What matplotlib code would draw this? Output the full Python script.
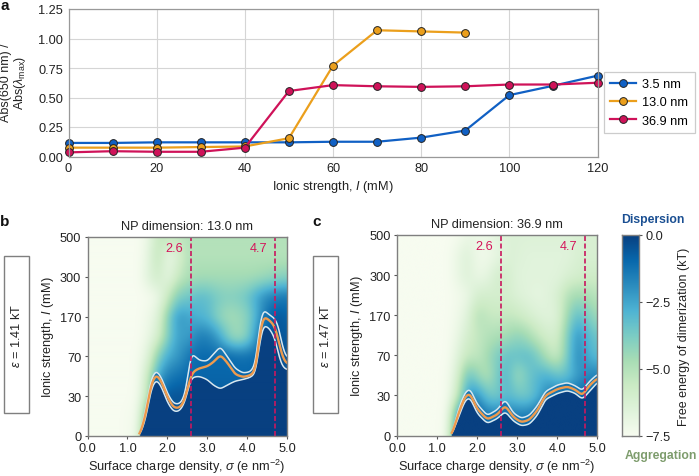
import numpy as np
import matplotlib
matplotlib.use("Agg")
import matplotlib.pyplot as plt
from matplotlib.patches import Rectangle

plt.rcParams['font.family'] = ['Liberation Sans', 'DejaVu Sans']
plt.rcParams['mathtext.fontset'] = 'custom'
plt.rcParams['mathtext.rm'] = 'Liberation Sans'
plt.rcParams['mathtext.it'] = 'Liberation Sans:italic'

W, H = 699, 477

# ---------- panel a data
ionic = [0, 10, 20, 30, 40, 50, 60, 70, 80, 90, 100, 110, 120]
abs_35 = [.115, .115, .12, .12, .12, .12, .125, .125, .16, .22, .52, .60, .685]
abs_13 = [.075, .075, .075, .08, .085, .155, .77, 1.07, 1.06, 1.05]
abs_369 = [.035, .045, .04, .04, .075, .555, .605, .595, .59, .595, .61, .61, .625]

# ---------- heat map data (rows: tick-position index 0..5, columns: sigma)
sigma_cols = [0, .25, .5, .75, 1, 1.25, 1.5, 1.75, 2, 2.25, 2.5, 2.75, 3, 3.25, 3.5, 3.75, 4, 4.25, 4.5, 4.75, 5]
row_idx = [0, .5, 1, 1.5, 2, 2.5, 3, 3.5, 4, 4.5, 5]
grid_b = [
 [-7.5,-7.5,-7.5,-7.5,-7.4,-7.0,-1,-.5,-.5,-.5,-.5,-.5,-.5,-.5,-.5,-.5,-.5,-.5,-.5,-.5,-.5],
 [-7.5,-7.5,-7.5,-7.5,-7.4,-7.2,-2.5,-.5,-.5,-.5,-.5,-.5,-.5,-.8,-.5,-.5,-.5,-.5,-.5,-.5,-.5],
 [-7.5,-7.5,-7.5,-7.5,-7.5,-7.3,-5.0,-1.5,-.5,-.5,-.5,-.7,-.7,-.7,-.7,-.7,-.7,-.7,-.5,-.5,-.5],
 [-7.5,-7.5,-7.5,-7.5,-7.5,-7.4,-5.5,-2.5,-1.5,-1.2,-1.0,-.9,-.9,-.9,-.9,-.9,-.9,-.8,-.5,-.5,-.5],
 [-7.5,-7.5,-7.5,-7.5,-7.5,-7.4,-6.5,-4.0,-2.6,-2.2,-1.4,-1.0,-1.0,-1.0,-1.0,-1.2,-1.2,-1.0,-.5,-.5,-.5],
 [-7.5,-7.5,-7.5,-7.5,-7.5,-7.5,-7.0,-6.0,-3.8,-2.3,-2.4,-1.6,-1.6,-2.3,-3.8,-4.6,-3.8,-1.8,-.5,-.5,-.6],
 [-7.5,-7.5,-7.5,-7.5,-7.5,-7.5,-7.2,-6.5,-4.0,-2.2,-2.5,-2.8,-3.0,-4.0,-4.6,-4.5,-4.0,-2.5,-1.0,-.5,-.9],
 [-7.5,-7.5,-7.5,-7.5,-7.5,-7.5,-7.4,-7.0,-5.5,-3.8,-3.6,-3.2,-3.3,-3.8,-4.0,-3.9,-3.5,-2.5,-1.8,-1.5,-1.4],
 [-7.5,-7.5,-7.5,-7.5,-7.5,-7.5,-6.6,-5.8,-6.8,-5.5,-4.8,-4.6,-4.6,-4.6,-4.6,-4.6,-4.6,-4.5,-4.3,-4.1,-4.0],
 [-7.5,-7.5,-7.5,-7.5,-7.5,-7.5,-6.8,-5.2,-7.0,-6.2,-5.0,-5.0,-5.0,-5.0,-5.0,-5.0,-5.0,-5.0,-5.0,-5.0,-5.0],
 [-7.5,-7.5,-7.5,-7.5,-7.5,-7.5,-7.0,-5.4,-5.4,-5.4,-5.0,-5.0,-5.0,-5.0,-5.0,-5.0,-5.0,-5.0,-5.0,-5.0,-5.0],
]
grid_c = [
 [-7.5,-7.5,-7.5,-7.5,-7.5,-7.2,-1,-.5,-.5,-.5,-.5,-.5,-.5,-.5,-.5,-.5,-.5,-.5,-.5,-.5,-.5],
 [-7.5,-7.5,-7.5,-7.5,-7.5,-7.3,-2.5,-.5,-.5,-1.5,-1.5,-1.5,-1.5,-1.5,-1.0,-.5,-.5,-.5,-.5,-.5,-.5],
 [-7.5,-7.5,-7.5,-7.5,-7.5,-7.4,-5.5,-2.2,-2.0,-3.5,-3.6,-3.0,-3.5,-3.6,-2.8,-1.6,-1.4,-1.2,-1.0,-.8,-.8],
 [-7.5,-7.5,-7.5,-7.5,-7.5,-7.4,-6.2,-3.4,-4.2,-5.0,-3.6,-3.0,-4.5,-3.6,-3.0,-2.8,-3.4,-3.2,-2.2,-1.8,-1.6],
 [-7.5,-7.5,-7.5,-7.5,-7.5,-7.5,-6.6,-5.4,-5.4,-4.6,-3.8,-3.4,-3.4,-3.2,-3.8,-5.0,-5.6,-3.6,-1.8,-2.6,-3.2],
 [-7.5,-7.5,-7.5,-7.5,-7.5,-7.5,-7.0,-6.0,-5.4,-5.0,-4.8,-4.6,-4.2,-4.6,-5.4,-6.0,-6.0,-3.8,-2.0,-3.0,-3.6],
 [-7.5,-7.5,-7.5,-7.5,-7.5,-7.5,-7.2,-6.6,-5.0,-5.4,-5.6,-5.4,-5.6,-6.0,-6.4,-6.6,-6.4,-4.4,-3.2,-3.8,-4.6],
 [-7.5,-7.5,-7.5,-7.5,-7.5,-7.5,-7.3,-7.0,-6.0,-6.0,-6.0,-6.0,-6.4,-6.6,-6.8,-6.6,-6.2,-5.0,-4.6,-4.8,-5.2],
 [-7.5,-7.5,-7.5,-7.5,-7.5,-7.5,-7.0,-6.4,-7.0,-6.8,-6.0,-6.0,-6.6,-6.6,-6.6,-6.6,-6.6,-6.2,-6.0,-5.8,-5.8],
 [-7.5,-7.5,-7.5,-7.5,-7.5,-7.5,-7.0,-6.4,-7.2,-7.2,-6.8,-6.4,-6.4,-6.6,-6.6,-6.6,-6.6,-6.6,-6.2,-6.2,-6.2],
 [-7.5,-7.5,-7.5,-7.5,-7.5,-7.5,-7.4,-7.0,-7.0,-7.0,-6.6,-6.4,-6.4,-6.4,-6.4,-6.4,-6.4,-6.4,-6.2,-6.2,-6.2],
]

# boundary curves: sigma, index position of the lower white / orange / upper white lines
b_sig = [1.30, 1.45, 1.60, 1.72, 1.85, 2.00, 2.15, 2.30, 2.42, 2.52, 2.57, 2.65, 2.80, 3.00, 3.15, 3.33, 3.50, 3.70, 3.90, 4.10, 4.22, 4.30, 4.40, 4.55, 4.70, 4.80, 4.88, 5.00]
b_low = [0.00, 0.40, 1.20, 1.42, 1.25, 0.85, 0.62, 0.62, 0.80, 1.15, 1.40, 1.48, 1.50, 1.42, 1.28, 1.18, 1.28, 1.38, 1.42, 1.48, 1.60, 2.25, 2.78, 2.72, 2.45, 2.00, 1.75, 1.66]
b_mid = [0.00, 0.50, 1.32, 1.55, 1.38, 0.98, 0.72, 0.70, 0.86, 1.25, 1.45, 1.62, 1.70, 1.75, 1.85, 2.04, 1.85, 1.55, 1.48, 1.53, 1.68, 2.45, 3.00, 2.92, 2.75, 2.35, 2.00, 1.80]
b_upp = [0.00, 0.62, 1.45, 1.65, 1.48, 1.08, 0.82, 0.80, 0.96, 1.50, 2.00, 2.05, 1.90, 1.88, 2.05, 2.25, 2.00, 1.70, 1.58, 1.62, 1.85, 2.70, 3.18, 3.05, 2.95, 2.72, 2.25, 1.95]
c_sig = [1.36, 1.55, 1.70, 1.82, 2.00, 2.25, 2.50, 2.70, 2.90, 3.10, 3.30, 3.50, 3.70, 4.00, 4.25, 4.45, 4.62, 4.80, 5.00]
c_low = [0.00, 0.50, 0.88, 0.95, 0.55, 0.30, 0.42, 0.60, 0.36, 0.24, 0.28, 0.50, 0.90, 1.05, 1.12, 1.05, 0.90, 1.10, 1.33]
c_mid = [0.00, 0.60, 0.98, 1.05, 0.66, 0.40, 0.52, 0.75, 0.46, 0.33, 0.39, 0.62, 1.00, 1.16, 1.22, 1.14, 1.00, 1.25, 1.43]
c_upp = [0.00, 0.70, 1.08, 1.17, 0.78, 0.50, 0.64, 0.90, 0.56, 0.43, 0.50, 0.74, 1.10, 1.26, 1.32, 1.24, 1.12, 1.35, 1.53]

ytick_labels = ['0', '30', '70', '170', '300', '500']
xtick_vals = [0, 1, 2, 3, 4, 5]
marks = [2.6, 4.7]

PINK = '#c9185f'
GRAY = '#7f7f7f'
FS = 9.2

def axpx(x0, x1, ytop, ybot):
    return fig.add_axes([x0 / W, 1 - ybot / H, (x1 - x0) / W, (ybot - ytop) / H])

def smooth1d(y, n):
    k = np.ones(n) / n
    p = np.pad(y, n, mode='edge')
    return np.convolve(p, k, mode='same')[n:-n]

fig = plt.figure(figsize=(W / 100, H / 100), dpi=100)

# ---------- panel a
ax = axpx(68.5, 597.5, 10, 157.5)
for xs, ys, c, lab in [(ionic, abs_35, '#1060c4', '3.5 nm'),
                       (ionic[:len(abs_13)], abs_13, '#eb9f1c', '13.0 nm'),
                       (ionic, abs_369, '#cf1259', '36.9 nm')]:
    ax.plot(xs, ys, '-o', color=c, lw=1.6, ms=5.6, mec='#222222', mew=0.7, label=lab, clip_on=False)
ax.set_xlim(0, 120)
ax.set_ylim(0, 1.25)
ax.set_xticks(range(0, 121, 20))
ax.set_yticks([0, .25, .5, .75, 1, 1.25])
ax.set_yticklabels(['0.00', '0.25', '0.50', '0.75', '1.00', '1.25'])
ax.grid(color='#d5d5d5', lw=0.8)
ax.set_axisbelow(True)
for s in ax.spines.values():
    s.set_color('#999999')
    s.set_linewidth(0.9)
ax.tick_params(labelsize=FS, length=0, pad=4, colors='#222222')
ax.set_xlabel(r'Ionic strength, $\mathit{I}$ (mM)', fontsize=FS, labelpad=3, color='#222222')
fig.text(14 / W, 1 - 83 / H, 'Abs(650 nm) /\nAbs($\\mathit{\\lambda}_{\\mathrm{max}}$)', rotation=90, fontsize=9.0,
         ha='center', va='center', ma='center', color='#222222', linespacing=1.05)
leg = ax.legend(loc='center left', bbox_to_anchor=(604 / W, 1 - 103.5 / H), bbox_transform=fig.transFigure,
                fontsize=FS, frameon=True, borderaxespad=0, handlelength=2.0, labelspacing=0.5,
                borderpad=0.5, handletextpad=0.5, fancybox=False, edgecolor='#cccccc', framealpha=1)
leg.get_frame().set_linewidth(0.9)

# ---------- heat maps
def heat(x0, x1, ytop, ybot, grid, bs, lo, mi, up, title):
    ax = axpx(x0, x1, ytop, ybot)
    nx, ny = 400, 400
    xx = np.linspace(0, 5, nx)
    yy = np.linspace(0, 5, ny)
    g = np.array(grid, dtype=float)
    tmp = np.array([np.interp(xx, sigma_cols, r) for r in g])
    Z = np.array([np.interp(yy, row_idx, c) for c in tmp.T]).T
    for _ in range(2):
        Z = np.array([smooth1d(r, 21) for r in Z])
        Z = np.array([smooth1d(c, 21) for c in Z.T]).T
    mk = []
    for a in (lo, mi, up):
        y = np.interp(xx, bs, a)
        y = smooth1d(smooth1d(y, 9), 9)
        y[xx < bs[0]] = np.nan
        mk.append(y)
    Y = yy[:, None]
    l, m, u = [np.nan_to_num(a, nan=-1)[None, :] for a in mk]
    Z = np.where(Y < u, np.maximum(Z, -1.3), Z)
    Z = np.where(Y < l, 0.0, Z)
    ax.imshow(Z, origin='lower', extent=[0, 5, 0, 5], aspect='auto', cmap='GnBu', vmin=-7.5, vmax=0,
              interpolation='bilinear')
    ax.plot(xx, mk[0], color='#d8e8f0', lw=1.1)
    ax.plot(xx, mk[2], color='#d8e8f0', lw=1.1)
    ax.plot(xx, mk[1], color='#ee9a4d', lw=1.7)
    for m_ in marks:
        ax.axvline(m_, color=PINK, lw=1.2, ls=(0, (3, 1.5)))
        ax.text(m_ - 0.2, 4.72, str(m_), color='#d4145a', fontsize=FS, ha='right', va='center')
    ax.set_xlim(0, 5)
    ax.set_ylim(0, 5)
    ax.set_xticks(xtick_vals)
    ax.set_xticklabels([f'{v:.1f}' for v in xtick_vals])
    ax.set_yticks(range(6))
    ax.set_yticklabels(ytick_labels)
    ax.tick_params(labelsize=FS, length=2.5, width=0.8, color='#555555', pad=2, labelcolor='#222222')
    for s in ax.spines.values():
        s.set_color(GRAY)
        s.set_linewidth(1.0)
    ax.set_xlabel(r'Surface charge density, $\mathit{\sigma}$ (e nm$^{-2}$)', fontsize=FS, labelpad=2, color='#222222')
    ax.set_ylabel(r'Ionic strength, $\mathit{I}$ (mM)', fontsize=FS, labelpad=3, color='#222222')
    ax.set_title(title, fontsize=FS, pad=6, color='#222222')
    return ax

axb = heat(87.5, 287, 238, 437, grid_b, b_sig, b_low, b_mid, b_upp, 'NP dimension: 13.0 nm')
axc = heat(397, 597.5, 236, 436.5, grid_c, c_sig, c_low, c_mid, c_upp, 'NP dimension: 36.9 nm')

# ---------- colour bar
cax = axpx(622, 639, 236, 437)
cb = np.linspace(-7.5, 0, 256)[:, None]
cax.imshow(cb, origin='lower', extent=[0, 1, -7.5, 0], aspect='auto', cmap='GnBu', vmin=-7.5, vmax=0)
cax.set_xticks([])
cax.yaxis.tick_right()
cax.set_yticks([0, -2.5, -5, -7.5])
cax.set_yticklabels(['0.0', '\u22122.5', '\u22125.0', '\u22127.5'])
cax.tick_params(labelsize=FS, length=2.5, width=0.8, color='#555555', pad=2, labelcolor='#222222')
for s in cax.spines.values():
    s.set_color(GRAY)
    s.set_linewidth(1.0)
fig.text(684 / W, 1 - 337 / H, 'Free energy of dimerization (kT)', rotation=90, fontsize=9.0,
         ha='center', va='center', color='#222222')

# ---------- epsilon boxes and annotations
for x0, x1, lab in [(3.5, 29, '1.41'), (312.5, 338, '1.47')]:
    fig.add_artist(Rectangle((x0 / W, 1 - 414 / H), (x1 - x0) / W, 157 / H, transform=fig.transFigure,
                             fc='white', ec=GRAY, lw=1.0))
    fig.text((x0 + x1) / 2 / W, 1 - 335.5 / H, rf'$\mathit{{\varepsilon}}$ = {lab} kT', rotation=90,
             fontsize=FS, ha='center', va='center', color='#222222')
fig.text(653 / W, 1 - 220 / H, 'Dispersion', color='#1a4f92', fontsize=8.8, fontweight='bold', ha='center', va='center')
fig.text(661 / W, 1 - 456 / H, 'Aggregation', color='#7d9c6c', fontsize=8.8, fontweight='bold', ha='center', va='center')
for x, y, t in [(5, 6.5, 'a'), (5, 222, 'b'), (317, 222, 'c')]:
    fig.text(x / W, 1 - y / H, t, fontsize=11, fontweight='bold', ha='center', va='center', color='#111111')

fig.savefig('out.png', dpi=100)
